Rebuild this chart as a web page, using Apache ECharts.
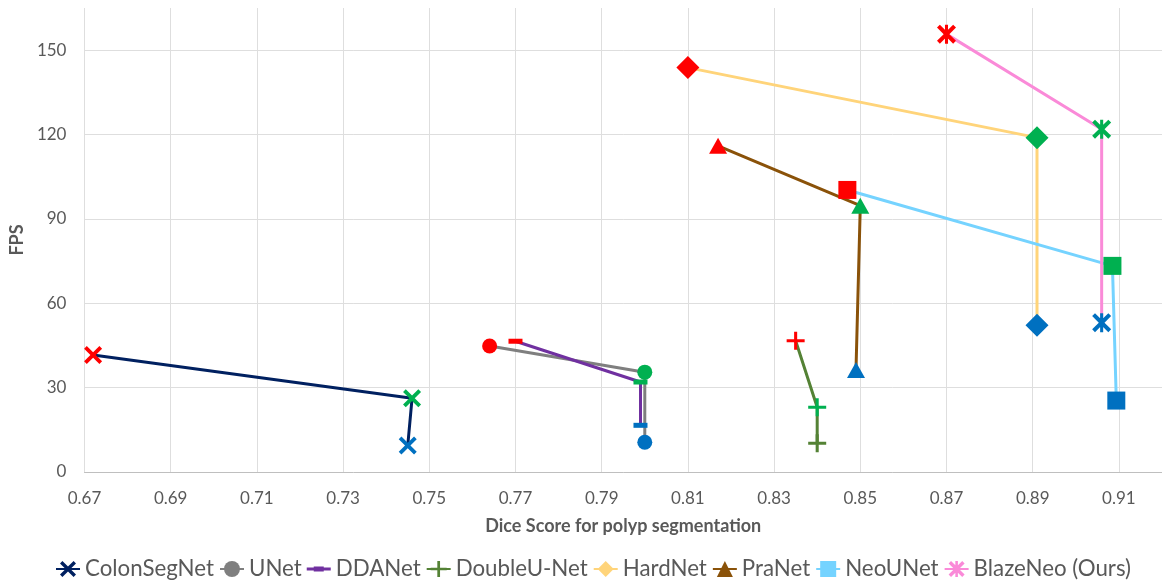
<!DOCTYPE html>
<html>
<head>
<meta charset="utf-8">
<script src="https://cdn.jsdelivr.net/npm/echarts@6/dist/echarts.min.js"></script>
<style>html,body{margin:0;padding:0;background:#fff}#c{width:1162px;height:586px}</style>
</head>
<body>
<div id="c"></div>
<script>
// ---- data ----
const categories = ['ColonSegNet','UNet','DDANet','DoubleU-Net','HardNet','PraNet','NeoUNet','BlazeNeo (Ours)'];
const colonSegNetDice = [0.672, 0.746, 0.745];
const colonSegNetFps  = [41.6, 26.2, 9.4];
const unetDice = [0.764, 0.800, 0.800];
const unetFps  = [44.8, 35.5, 10.6];
const ddanetDice = [0.770, 0.799, 0.799];
const ddanetFps  = [46.5, 32.0, 16.6];
const doubleUNetDice = [0.835, 0.840, 0.840];
const doubleUNetFps  = [46.7, 23.0, 10.2];
const hardNetDice = [0.810, 0.891, 0.891];
const hardNetFps  = [143.8, 118.9, 52.2];
const praNetDice = [0.817, 0.850, 0.849];
const praNetFps  = [116.0, 94.7, 36.3];
const neoUNetDice = [0.847, 0.9085, 0.9094];
const neoUNetFps  = [100.3, 73.3, 25.4];
const blazeNeoDice = [0.870, 0.906, 0.906];
const blazeNeoFps  = [155.7, 121.9, 53.1];

const diceBySeries = [colonSegNetDice, unetDice, ddanetDice, doubleUNetDice, hardNetDice, praNetDice, neoUNetDice, blazeNeoDice];
const fpsBySeries  = [colonSegNetFps, unetFps, ddanetFps, doubleUNetFps, hardNetFps, praNetFps, neoUNetFps, blazeNeoFps];

// ---- styles ----
const X_PATH = 'path://M0,1.5 L1.5,0 L5,3.5 L8.5,0 L10,1.5 L6.5,5 L10,8.5 L8.5,10 L5,6.5 L1.5,10 L0,8.5 L3.5,5 Z';
const STAR_PATH = X_PATH + ' M4.2,0 L5.8,0 L5.8,10 L4.2,10 Z';
const PLUS_PATH = 'path://M4.15,0 L5.85,0 L5.85,4.15 L10,4.15 L10,5.85 L5.85,5.85 L5.85,10 L4.15,10 L4.15,5.85 L0,5.85 L0,4.15 L4.15,4.15 Z';
const DASH_LEGEND_ICON = 'path://M0,1 L24,1 L24,4 L0,4 Z M7,0 L17,0 L17,5 L7,5 Z';
const RED = '#ff0000', GREEN = '#00b050', BLUE = '#0070c0';
const styles = [
  {color:'#002060', symbol:X_PATH, size:18, marks:[RED,GREEN,BLUE]},
  {color:'#7f7f7f', symbol:'circle', size:15, marks:[RED,GREEN,BLUE]},
  {color:'#7030a0', symbol:'rect', size:[14,5], legendIcon:DASH_LEGEND_ICON, marks:[RED,GREEN,BLUE]},
  {color:'#548235', symbol:PLUS_PATH, size:18, marks:[RED,GREEN,'#548235']},
  {color:'#ffd47a', symbol:'diamond', size:23, marks:[RED,GREEN,BLUE]},
  {color:'#8a5209', symbol:'triangle', size:[18,16], marks:[RED,GREEN,BLUE]},
  {color:'#75d3ff', symbol:'rect', size:18, marks:[RED,GREEN,BLUE]},
  {color:'#fa8ad8', symbol:STAR_PATH, size:19, marks:[RED,GREEN,BLUE]}
];

const FONT = 'Lato';
const series = categories.map((name, i) => ({
  name,
  type: 'line',
  symbol: styles[i].symbol,
  symbolSize: styles[i].size,
  showSymbol: true,
  lineStyle: {color: styles[i].color, width: 3},
  itemStyle: {color: styles[i].color},
  data: diceBySeries[i].map((d, k) => ({
    value: [d, fpsBySeries[i][k]],
    itemStyle: {color: styles[i].marks[k]}
  }))
}));

const legendData = categories.map((name, i) => styles[i].legendIcon ? {name, icon: styles[i].legendIcon} : {name});

const chart = echarts.init(document.getElementById('c'), null, {renderer: 'canvas'});
chart.setOption({
  animation: false,
  grid: {left: 81, right: 0, top: 8, bottom: 114, containLabel: false},
  xAxis: {
    type: 'value', min: 0.67, max: 0.92, interval: 0.02,
    name: 'Dice Score for polyp segmentation', nameLocation: 'middle', nameGap: 45,
    nameTextStyle: {fontFamily: FONT, fontSize: 18, fontWeight: 'bold', color: '#595959'},
    axisLine: {show: true, lineStyle: {color: '#bfbfbf', width: 1}},
    axisTick: {show: false},
    axisLabel: {fontFamily: FONT, fontSize: 17, color: '#595959', margin: 18, showMaxLabel: false,
      formatter: v => v.toFixed(2)},
    splitLine: {show: true, showMaxLine: false, lineStyle: {color: '#dedede', width: 1}}
  },
  yAxis: {
    type: 'value', min: 0, max: 165, interval: 30,
    name: 'FPS', nameLocation: 'middle', nameGap: 56, nameRotate: 90,
    nameTextStyle: {fontFamily: FONT, fontSize: 18, fontWeight: 'bold', color: '#595959'},
    axisLine: {show: false},
    axisTick: {show: false},
    axisLabel: {fontFamily: FONT, fontSize: 17, color: '#595959', margin: 18, showMaxLabel: false},
    splitLine: {show: true, showMinLine: false, showMaxLine: false, lineStyle: {color: '#dedede', width: 1}}
  },
  legend: {
    data: legendData,
    bottom: 1, left: 50,
    itemWidth: 24, itemHeight: 20, itemGap: 5,
    textStyle: {fontFamily: FONT, fontSize: 22.3, color: '#595959'}
  },
  series
});
</script>
</body>
</html>
